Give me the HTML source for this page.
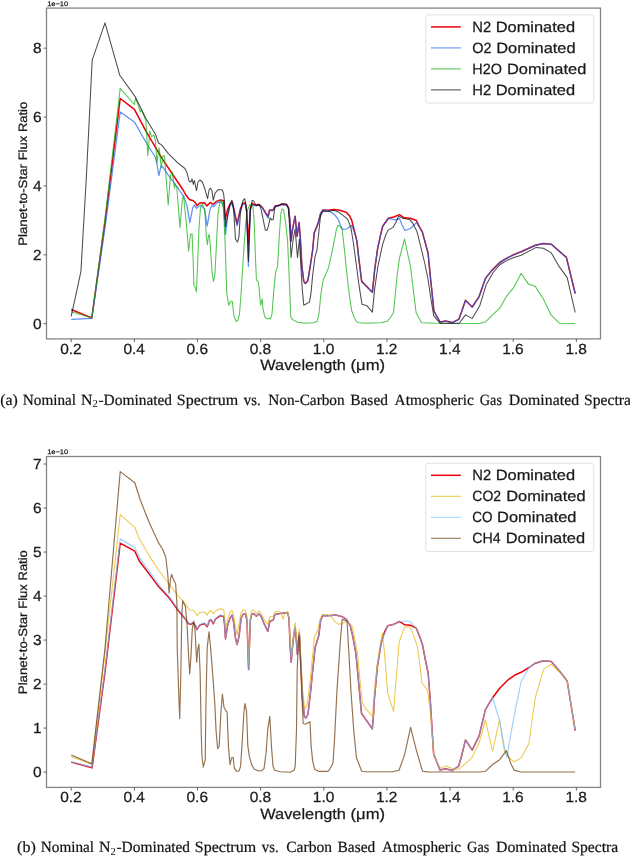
<!DOCTYPE html>
<html lang="en">
<head>
<meta charset="utf-8">
<title>Spectra</title>
<style>
html,body{margin:0;padding:0;background:#ffffff;}
body{width:630px;height:856px;overflow:hidden;font-family:"Liberation Sans",sans-serif;}
svg text{white-space:pre;text-rendering:geometricPrecision;}
</style>
</head>
<body>
<svg width="630" height="856" viewBox="0 0 630 856" style="display:block;will-change:transform">
<rect x="0" y="0" width="630" height="856" fill="#ffffff"/>
<g>
<g>
<polyline points="71.2,309.5 91.8,317.9 105.0,222.0 120.2,98.5 134.4,109.3 145.9,131.1 161.8,158.1 177.7,182.0 183.1,190.0 186.2,195.6 189.4,199.5 193.4,200.8 195.3,202.7 196.9,205.6 199.7,203.0 204.5,202.7 206.9,205.9 210.1,202.4 213.3,204.3 216.4,201.4 220.4,199.9 223.6,200.8 225.2,219.4 227.6,209.1 230.0,204.3 231.9,201.9 233.9,209.1 237.1,224.2 240.3,209.1 242.7,203.5 245.1,202.7 246.6,210.7 248.4,244.0 250.3,209.1 252.2,203.5 255.4,205.1 256.1,205.1 259.3,204.6 262.5,207.5 265.7,213.1 268.1,216.2 269.6,209.9 272.8,210.3 275.2,205.9 278.4,205.6 281.6,204.3 286.7,204.6 288.7,208.3 290.0,221.8 291.1,240.9 292.7,228.2 295.1,216.2 297.1,236.1 299.1,222.6 300.3,237.7 301.9,266.3 303.8,281.4 305.4,283.5 307.8,280.6 310.2,266.3 312.6,250.4 314.2,232.9 318.1,223.4 320.5,213.8 322.9,209.9 327.7,210.3 334.0,209.6 339.8,210.3 346.1,212.3 349.3,215.4 351.7,220.2 354.1,229.7 356.9,240.9 358.8,258.4 361.7,281.4 372.4,292.2 374.7,269.5 377.6,248.8 380.3,236.1 382.7,226.2 388.3,218.3 393.8,217.0 399.4,214.6 404.2,217.8 410.5,218.3 416.4,220.5 419.3,226.6 422.4,232.1 425.0,241.8 428.1,253.2 430.5,278.0 432.8,300.0 433.9,311.0 436.9,316.5 440.1,322.1 445.7,321.0 452.0,322.6 458.7,319.4 461.6,311.7 465.5,300.3 472.2,307.0 479.1,296.6 485.4,278.4 491.8,270.4 499.7,262.5 507.7,257.7 514.0,254.5 521.1,251.7 535.4,245.3 543.4,243.4 551.3,244.2 566.4,257.4 575.2,293.5" fill="none" stroke="#e8000b" stroke-width="1.5" stroke-linejoin="round" stroke-linecap="butt" stroke-opacity="1.0"/>
<polyline points="71.2,319.3 91.8,318.3 105.0,228.0 120.2,112.0 134.4,121.9 145.9,142.2 155.4,157.3 157.0,164.5 158.9,175.6 161.0,166.1 162.6,166.9 169.7,177.2 177.7,187.5 179.1,190.0 183.8,196.4 187.0,205.9 189.9,222.6 192.6,208.3 194.2,205.1 196.6,208.3 200.5,205.1 204.5,209.1 207.2,226.2 210.1,209.1 212.1,205.1 213.7,206.7 217.2,202.7 221.2,201.9 223.6,205.9 225.5,234.5 227.6,217.0 230.0,205.9 231.9,203.5 233.9,210.7 237.1,225.8 240.3,210.7 242.7,204.3 245.1,204.0 246.6,210.7 248.4,266.3 250.3,210.7 252.2,205.1 255.4,205.7 256.1,205.7 259.3,205.2 262.5,208.1 265.7,213.7 268.1,218.3 269.6,210.4 272.8,210.8 275.2,206.4 278.4,206.2 281.6,204.8 286.7,205.2 288.7,208.8 290.0,221.9 291.1,241.1 292.7,228.3 295.1,216.3 297.1,236.2 299.1,222.8 300.3,237.8 301.9,266.4 303.8,281.6 305.4,283.6 307.8,280.8 310.2,266.4 312.6,250.6 314.2,233.1 318.1,223.6 320.5,213.9 322.9,210.1 327.7,210.4 332.4,213.1 335.0,215.1 338.2,219.4 340.6,225.8 342.9,229.4 346.9,229.0 351.7,225.3 354.1,231.3 356.9,241.1 358.8,258.6 361.7,281.6 372.4,292.4 374.7,269.6 377.6,248.9 380.3,236.2 382.7,226.3 388.3,218.4 395.4,219.9 399.4,218.6 401.8,224.2 405.0,230.5 410.5,228.5 416.4,222.6 419.3,226.8 422.4,232.2 425.0,241.9 428.1,253.3 430.5,278.1 432.8,300.1 433.9,311.1 436.9,316.6 440.1,322.2 445.7,321.1 452.0,322.8 458.7,319.6 461.6,311.9 465.5,300.4 472.2,307.1 479.1,296.8 485.4,278.6 491.8,270.6 499.7,262.6 507.7,257.9 514.0,254.7 521.1,251.8 535.4,245.4 543.4,243.6 551.3,244.3 566.4,257.6 575.2,293.6" fill="none" stroke="#155fea" stroke-width="1.22" stroke-linejoin="round" stroke-linecap="butt" stroke-opacity="0.7"/>
<polyline points="71.2,311.8 91.8,317.9 105.0,218.0 120.2,88.4 134.4,104.5 135.5,98.1 138.7,106.5 140.3,112.0 141.4,109.6 145.9,120.8 147.8,155.7 149.9,131.1 151.5,136.7 153.8,135.1 155.4,140.6 157.0,162.9 159.1,147.8 161.3,167.7 162.9,155.7 164.5,155.7 165.8,174.0 168.2,205.0 170.5,175.6 172.1,171.6 174.5,188.3 175.0,183.6 176.9,188.3 177.8,200.0 179.9,227.4 182.3,199.5 183.5,195.6 186.2,221.8 188.6,251.2 190.5,234.5 192.1,233.7 192.9,253.6 193.9,285.4 195.3,287.8 196.4,291.7 197.7,261.5 198.9,229.7 200.5,207.5 202.6,204.0 204.8,210.7 206.4,237.7 207.4,244.8 208.5,235.3 209.3,234.5 210.6,250.4 212.1,272.7 213.4,281.4 214.8,275.9 216.4,245.6 218.0,213.8 220.1,200.8 222.0,201.9 223.6,210.7 225.2,245.6 226.8,293.3 228.7,305.3 230.7,301.3 232.3,301.3 233.9,315.6 236.0,321.2 237.9,320.4 239.5,314.0 241.1,293.3 243.5,253.6 245.9,221.8 247.5,210.0 250.0,204.5 252.9,205.9 254.2,221.8 255.3,253.6 256.4,279.8 258.5,282.2 260.6,305.3 262.2,298.9 263.0,309.2 264.9,317.2 267.3,319.1 268.8,318.0 270.4,319.1 272.0,314.0 273.6,293.3 275.5,272.7 277.6,266.3 279.2,237.7 280.8,213.8 281.9,209.1 283.5,209.4 285.5,221.8 287.6,240.9 289.2,277.4 290.8,317.2 292.7,319.6 297.5,322.3 305.4,323.2 313.4,322.8 317.3,321.2 318.9,314.0 321.0,293.3 323.2,279.8 328.5,267.9 332.4,250.4 336.4,229.7 337.7,225.3 339.8,226.2 342.2,229.7 344.5,250.4 346.9,274.3 349.3,294.9 351.7,310.8 354.1,317.2 356.5,321.6 358.8,322.8 366.8,323.2 381.1,322.8 387.5,321.2 390.6,317.2 393.5,312.4 395.4,293.3 397.3,274.3 399.4,258.4 404.6,239.0 407.3,252.0 410.5,266.3 413.7,293.3 416.1,312.4 418.5,317.2 421.6,322.8 435.0,323.2 479.1,323.5 485.4,322.1 491.8,315.7 499.7,308.2 506.9,295.8 514.0,287.1 521.1,273.4 528.3,283.9 535.4,286.6 543.4,299.0 551.0,314.9 559.3,323.2 575.2,323.5" fill="none" stroke="#08ac08" stroke-width="1.05" stroke-linejoin="round" stroke-linecap="butt" stroke-opacity="0.7"/>
<polyline points="71.2,316.4 80.9,271.6 86.2,180.0 92.2,60.2 105.0,22.8 119.8,75.3 135.1,96.6 136.4,99.3 145.9,118.4 155.4,134.3 158.6,143.0 161.8,145.1 168.2,153.4 177.7,162.9 184.9,168.5 186.9,172.4 189.1,181.2 190.9,182.0 192.0,178.8 193.3,184.4 194.4,180.4 196.5,190.7 198.0,182.0 200.0,179.9 202.3,182.0 204.7,188.3 207.6,198.7 209.0,190.0 210.3,188.0 211.9,190.7 213.3,200.3 215.1,193.1 218.2,189.5 222.2,190.0 223.6,193.5 224.4,201.1 225.5,226.6 227.6,215.4 230.0,204.3 231.9,200.3 233.4,205.9 235.5,239.3 237.6,242.1 239.0,236.1 240.3,213.8 242.7,201.1 244.6,198.7 246.3,205.9 248.4,261.5 250.3,209.1 252.2,200.3 253.8,201.1 254.5,202.7 256.4,205.9 259.0,204.3 260.9,208.3 263.3,220.2 265.3,230.1 266.9,230.5 268.5,225.8 270.1,217.8 271.7,219.9 273.3,219.4 274.9,207.5 276.8,205.9 279.2,205.1 282.4,203.5 286.3,204.3 288.2,207.5 289.5,225.0 291.1,257.6 292.7,242.5 295.1,229.0 297.5,257.6 299.4,239.3 300.6,261.5 302.2,288.6 303.8,305.3 309.4,302.1 311.0,293.3 312.6,275.9 315.0,256.8 316.9,250.4 318.9,231.3 320.5,216.2 322.6,211.5 327.7,211.5 334.0,210.3 339.0,212.3 342.9,215.4 347.7,219.4 350.9,227.4 353.3,242.5 355.7,260.0 358.8,283.8 362.0,304.2 366.8,305.7 372.4,312.1 374.7,288.6 377.9,266.3 382.7,244.1 385.9,234.5 388.3,230.1 393.0,227.4 396.2,221.8 398.6,216.2 403.4,218.6 409.7,219.4 412.9,223.4 416.9,231.3 420.9,247.2 424.8,263.5 428.0,279.0 430.6,297.0 432.6,309.0 433.7,315.7 436.9,319.7 440.1,323.2 459.2,323.2 465.5,314.9 472.2,318.6 479.9,305.4 486.2,284.7 493.4,272.0 499.7,264.8 507.7,260.1 514.0,257.4 521.1,255.3 536.2,247.4 543.4,248.2 551.3,252.9 558.5,265.6 567.2,277.6 575.2,312.5" fill="none" stroke="#000000" stroke-width="1.05" stroke-linejoin="round" stroke-linecap="butt" stroke-opacity="0.7"/>
</g>
<rect x="46.5" y="8.1" width="554.0" height="330.8" fill="none" stroke="#858585" stroke-width="1.3"/>
<text x="47.2" y="5.7" font-family="Liberation Sans, sans-serif" stroke="#1a1a1a" stroke-width="0.25" font-size="6.6" fill="#1a1a1a" textLength="21" lengthAdjust="spacingAndGlyphs">1e−10</text>
<line x1="43.5" y1="323.70" x2="46.5" y2="323.70" stroke="#444" stroke-width="0.8"/>
<text x="33.0" y="328.9" font-family="Liberation Sans, sans-serif" stroke="#1a1a1a" stroke-width="0.25" font-size="14.7" fill="#1a1a1a" textLength="8.6" lengthAdjust="spacingAndGlyphs">0</text>
<line x1="43.5" y1="254.82" x2="46.5" y2="254.82" stroke="#444" stroke-width="0.8"/>
<text x="33.0" y="260.0" font-family="Liberation Sans, sans-serif" stroke="#1a1a1a" stroke-width="0.25" font-size="14.7" fill="#1a1a1a" textLength="8.6" lengthAdjust="spacingAndGlyphs">2</text>
<line x1="43.5" y1="185.94" x2="46.5" y2="185.94" stroke="#444" stroke-width="0.8"/>
<text x="33.0" y="191.1" font-family="Liberation Sans, sans-serif" stroke="#1a1a1a" stroke-width="0.25" font-size="14.7" fill="#1a1a1a" textLength="8.6" lengthAdjust="spacingAndGlyphs">4</text>
<line x1="43.5" y1="117.06" x2="46.5" y2="117.06" stroke="#444" stroke-width="0.8"/>
<text x="33.0" y="122.3" font-family="Liberation Sans, sans-serif" stroke="#1a1a1a" stroke-width="0.25" font-size="14.7" fill="#1a1a1a" textLength="8.6" lengthAdjust="spacingAndGlyphs">6</text>
<line x1="43.5" y1="48.18" x2="46.5" y2="48.18" stroke="#444" stroke-width="0.8"/>
<text x="33.0" y="53.4" font-family="Liberation Sans, sans-serif" stroke="#1a1a1a" stroke-width="0.25" font-size="14.7" fill="#1a1a1a" textLength="8.6" lengthAdjust="spacingAndGlyphs">8</text>
<line x1="71.25" y1="338.9" x2="71.25" y2="342.1" stroke="#444" stroke-width="0.8"/>
<text x="60.2" y="353.8" font-family="Liberation Sans, sans-serif" stroke="#1a1a1a" stroke-width="0.25" font-size="14.7" fill="#1a1a1a" textLength="21.5" lengthAdjust="spacingAndGlyphs">0.2</text>
<line x1="134.39" y1="338.9" x2="134.39" y2="342.1" stroke="#444" stroke-width="0.8"/>
<text x="123.4" y="353.8" font-family="Liberation Sans, sans-serif" stroke="#1a1a1a" stroke-width="0.25" font-size="14.7" fill="#1a1a1a" textLength="21.5" lengthAdjust="spacingAndGlyphs">0.4</text>
<line x1="197.53" y1="338.9" x2="197.53" y2="342.1" stroke="#444" stroke-width="0.8"/>
<text x="186.5" y="353.8" font-family="Liberation Sans, sans-serif" stroke="#1a1a1a" stroke-width="0.25" font-size="14.7" fill="#1a1a1a" textLength="21.5" lengthAdjust="spacingAndGlyphs">0.6</text>
<line x1="260.67" y1="338.9" x2="260.67" y2="342.1" stroke="#444" stroke-width="0.8"/>
<text x="249.7" y="353.8" font-family="Liberation Sans, sans-serif" stroke="#1a1a1a" stroke-width="0.25" font-size="14.7" fill="#1a1a1a" textLength="21.5" lengthAdjust="spacingAndGlyphs">0.8</text>
<line x1="323.81" y1="338.9" x2="323.81" y2="342.1" stroke="#444" stroke-width="0.8"/>
<text x="312.8" y="353.8" font-family="Liberation Sans, sans-serif" stroke="#1a1a1a" stroke-width="0.25" font-size="14.7" fill="#1a1a1a" textLength="21.5" lengthAdjust="spacingAndGlyphs">1.0</text>
<line x1="386.95" y1="338.9" x2="386.95" y2="342.1" stroke="#444" stroke-width="0.8"/>
<text x="375.9" y="353.8" font-family="Liberation Sans, sans-serif" stroke="#1a1a1a" stroke-width="0.25" font-size="14.7" fill="#1a1a1a" textLength="21.5" lengthAdjust="spacingAndGlyphs">1.2</text>
<line x1="450.09" y1="338.9" x2="450.09" y2="342.1" stroke="#444" stroke-width="0.8"/>
<text x="439.1" y="353.8" font-family="Liberation Sans, sans-serif" stroke="#1a1a1a" stroke-width="0.25" font-size="14.7" fill="#1a1a1a" textLength="21.5" lengthAdjust="spacingAndGlyphs">1.4</text>
<line x1="513.23" y1="338.9" x2="513.23" y2="342.1" stroke="#444" stroke-width="0.8"/>
<text x="502.2" y="353.8" font-family="Liberation Sans, sans-serif" stroke="#1a1a1a" stroke-width="0.25" font-size="14.7" fill="#1a1a1a" textLength="21.5" lengthAdjust="spacingAndGlyphs">1.6</text>
<line x1="576.37" y1="338.9" x2="576.37" y2="342.1" stroke="#444" stroke-width="0.8"/>
<text x="565.4" y="353.8" font-family="Liberation Sans, sans-serif" stroke="#1a1a1a" stroke-width="0.25" font-size="14.7" fill="#1a1a1a" textLength="21.5" lengthAdjust="spacingAndGlyphs">1.8</text>
<text x="260.3" y="370.1" font-family="Liberation Sans, sans-serif" stroke="#1a1a1a" stroke-width="0.25" font-size="15.0" fill="#1a1a1a" textLength="85.66" lengthAdjust="spacingAndGlyphs">Wavelength</text>
<text x="350.55" y="370.1" font-family="Liberation Sans, sans-serif" stroke="#1a1a1a" stroke-width="0.25" font-size="15.0" fill="#1a1a1a" textLength="34.52" lengthAdjust="spacingAndGlyphs">(μm)</text>
<g transform="translate(27.4,245.8) rotate(-90)">
<text x="0.00" y="0" font-family="Liberation Sans, sans-serif" stroke="#1a1a1a" stroke-width="0.25" font-size="12.2" fill="#1a1a1a" textLength="81.72" lengthAdjust="spacingAndGlyphs">Planet-to-Star</text>
<text x="85.46" y="0" font-family="Liberation Sans, sans-serif" stroke="#1a1a1a" stroke-width="0.25" font-size="12.2" fill="#1a1a1a" textLength="24.51" lengthAdjust="spacingAndGlyphs">Flux</text>
<text x="113.72" y="0" font-family="Liberation Sans, sans-serif" stroke="#1a1a1a" stroke-width="0.25" font-size="12.2" fill="#1a1a1a" textLength="30.27" lengthAdjust="spacingAndGlyphs">Ratio</text>
</g>
<rect x="425.8" y="14.9" width="167.9" height="88.2" rx="2.2" ry="2.2" fill="#ffffff" fill-opacity="0.8" stroke="#d4d4d4" stroke-width="0.7"/>
<line x1="431.0" y1="26.9" x2="460.8" y2="26.9" stroke="#e8000b" stroke-width="1.5" stroke-opacity="1.0"/>
<text x="472.3" y="31.8" font-family="Liberation Sans, sans-serif" stroke="#1a1a1a" stroke-width="0.25" font-size="14.8" fill="#1a1a1a" textLength="18.84" lengthAdjust="spacingAndGlyphs">N2</text>
<text x="495.66" y="31.8" font-family="Liberation Sans, sans-serif" stroke="#1a1a1a" stroke-width="0.25" font-size="14.8" fill="#1a1a1a" textLength="79.4" lengthAdjust="spacingAndGlyphs">Dominated</text>
<line x1="431.0" y1="47.9" x2="460.8" y2="47.9" stroke="#155fea" stroke-width="1.05" stroke-opacity="0.7"/>
<text x="472.3" y="52.8" font-family="Liberation Sans, sans-serif" stroke="#1a1a1a" stroke-width="0.25" font-size="14.8" fill="#1a1a1a" textLength="19.37" lengthAdjust="spacingAndGlyphs">O2</text>
<text x="496.21" y="52.8" font-family="Liberation Sans, sans-serif" stroke="#1a1a1a" stroke-width="0.25" font-size="14.8" fill="#1a1a1a" textLength="79.4" lengthAdjust="spacingAndGlyphs">Dominated</text>
<line x1="431.0" y1="68.9" x2="460.8" y2="68.9" stroke="#08ac08" stroke-width="1.05" stroke-opacity="0.7"/>
<text x="472.3" y="73.8" font-family="Liberation Sans, sans-serif" stroke="#1a1a1a" stroke-width="0.25" font-size="14.8" fill="#1a1a1a" textLength="29.61" lengthAdjust="spacingAndGlyphs">H2O</text>
<text x="506.93" y="73.8" font-family="Liberation Sans, sans-serif" stroke="#1a1a1a" stroke-width="0.25" font-size="14.8" fill="#1a1a1a" textLength="79.4" lengthAdjust="spacingAndGlyphs">Dominated</text>
<line x1="431.0" y1="89.9" x2="460.8" y2="89.9" stroke="#000000" stroke-width="1.05" stroke-opacity="0.7"/>
<text x="472.3" y="94.8" font-family="Liberation Sans, sans-serif" stroke="#1a1a1a" stroke-width="0.25" font-size="14.8" fill="#1a1a1a" textLength="18.89" lengthAdjust="spacingAndGlyphs">H2</text>
<text x="495.71" y="94.8" font-family="Liberation Sans, sans-serif" stroke="#1a1a1a" stroke-width="0.25" font-size="14.8" fill="#1a1a1a" textLength="79.4" lengthAdjust="spacingAndGlyphs">Dominated</text>
<g>
<polyline points="71.2,762.1 92.1,767.7 105.0,672.0 120.2,543.2 134.8,551.2 138.5,559.1 139.5,561.2 149.1,573.9 158.6,586.6 169.7,598.6 177.7,609.7 184.9,618.4 188.3,623.5 191.0,624.2 193.4,622.7 195.3,625.4 196.9,629.4 199.7,625.1 204.5,623.5 207.2,626.7 209.6,620.3 211.2,619.9 213.3,623.8 215.6,618.8 220.4,615.6 223.6,616.4 224.5,623.8 225.5,639.0 227.6,625.4 230.0,618.3 231.9,615.1 233.4,620.7 235.5,638.2 237.1,644.5 239.0,636.6 241.1,618.3 243.0,614.3 245.4,614.0 247.0,620.7 248.6,669.6 250.3,620.7 251.7,614.3 254.0,613.8 256.4,616.2 258.7,613.8 261.1,616.2 264.3,624.2 267.8,631.3 269.9,621.0 273.1,620.2 275.1,614.6 278.6,613.8 283.4,613.1 287.8,613.1 289.0,618.6 290.1,645.6 291.2,662.3 292.9,642.5 295.0,627.4 296.1,637.7 297.4,654.4 299.3,632.9 300.6,661.5 302.5,698.1 304.4,716.4 306.0,718.0 308.0,714.0 310.4,693.3 312.8,669.5 315.2,647.2 318.7,636.1 320.7,620.2 322.8,615.4 327.9,615.8 335.9,615.1 342.2,616.7 346.4,619.4 350.3,625.8 352.7,636.1 355.9,653.6 358.3,679.0 361.5,713.2 372.3,728.9 373.6,713.8 374.2,701.3 377.4,666.3 381.3,642.5 384.5,632.1 387.7,625.8 394.1,624.2 399.6,621.5 404.4,624.7 410.7,625.3 416.3,628.2 419.5,636.1 422.7,645.6 425.0,658.0 428.2,673.5 430.6,705.0 432.4,735.0 433.7,754.2 440.1,770.1 445.7,768.8 452.3,770.4 458.7,766.1 461.6,755.7 465.5,739.9 472.2,750.2 479.1,735.9 485.4,709.6 492.6,697.7 499.7,688.2 507.7,680.2 515.6,674.7 521.1,672.3 529.1,667.5 535.4,663.2 543.4,660.7 551.3,661.6 559.3,670.7 567.2,681.0 575.2,730.6" fill="none" stroke="#e8000b" stroke-width="1.5" stroke-linejoin="round" stroke-linecap="butt" stroke-opacity="1.0"/>
<polyline points="71.2,756.8 91.8,764.0 105.0,653.5 120.2,514.6 134.8,527.3 139.5,539.0 149.1,555.6 158.6,570.0 168.2,582.7 177.7,595.4 184.9,603.3 187.0,606.4 189.4,609.9 193.4,610.3 195.3,612.4 196.9,615.6 199.7,612.4 204.5,611.9 207.2,615.1 209.3,611.1 211.2,610.8 213.3,614.0 215.6,610.8 220.4,608.7 223.6,609.5 224.5,615.9 225.7,628.6 227.6,619.1 230.0,612.7 231.9,610.3 233.4,614.3 235.5,627.0 237.1,634.7 239.0,623.8 241.1,612.7 243.0,609.9 245.4,610.3 247.0,615.9 248.6,664.0 250.3,619.1 251.7,610.8 253.2,609.9 256.4,613.5 258.7,611.0 261.1,613.1 264.3,620.2 267.8,624.2 269.9,616.7 273.1,616.2 275.1,611.9 278.6,611.1 281.5,613.1 283.1,619.4 284.7,613.1 287.8,611.5 289.0,617.8 290.5,645.6 291.7,656.8 293.2,637.7 295.2,622.6 296.4,634.5 297.7,650.4 299.3,629.0 300.6,653.6 302.5,688.6 304.4,706.9 305.6,708.4 307.2,704.5 309.6,685.4 312.0,661.5 314.4,637.7 317.6,630.5 320.0,619.4 322.3,614.6 327.9,614.6 331.1,616.2 335.1,621.8 338.2,624.2 343.0,623.4 347.2,621.0 351.9,625.8 354.3,636.1 357.5,653.6 359.9,679.0 362.3,702.9 366.2,709.2 372.6,716.4 374.2,693.3 376.9,666.3 380.5,642.5 382.6,632.9 384.5,653.6 387.7,693.3 393.6,711.6 395.6,685.4 399.1,642.5 404.4,626.9 410.0,626.9 413.9,636.1 417.1,645.6 419.5,661.5 421.9,683.0 425.0,686.6 427.9,691.4 430.6,715.0 433.7,755.7 440.1,768.2 446.5,766.1 452.3,768.8 458.7,769.3 465.5,763.7 472.2,757.3 479.1,743.0 485.4,720.0 492.6,751.3 499.4,720.0 504.5,751.0 507.7,756.5 514.0,761.8 521.1,758.1 528.8,743.8 535.4,696.9 543.7,669.1 551.3,664.3 559.3,671.8 567.2,681.0 575.2,729.0" fill="none" stroke="#e4b202" stroke-width="1.05" stroke-linejoin="round" stroke-linecap="butt" stroke-opacity="0.7"/>
<polyline points="71.2,761.6 92.0,767.2 105.0,669.0 120.2,538.9 134.8,547.5 138.5,555.3 139.5,557.6 149.1,571.2 158.6,584.6 169.7,597.0 177.7,608.6 184.9,617.6 188.3,622.9 191.0,623.6 193.4,622.1 195.3,624.8 196.9,628.8 199.7,624.5 204.5,622.9 207.2,626.1 209.6,619.7 211.2,619.3 213.3,623.2 215.6,618.2 220.4,615.0 223.6,615.8 224.5,623.8 225.5,639.0 227.6,625.4 230.0,618.3 231.9,615.1 233.4,620.7 235.5,638.2 237.1,644.5 239.0,636.6 241.1,618.3 243.0,614.3 245.4,614.0 247.0,620.7 248.6,669.6 250.3,620.7 251.7,614.3 254.0,613.8 256.4,616.2 258.7,613.8 261.1,616.2 264.3,624.2 267.8,631.3 269.9,621.0 273.1,620.2 275.1,614.6 278.6,613.8 283.4,613.1 287.8,613.1 289.0,618.6 290.1,645.6 291.2,662.3 292.9,642.5 295.0,627.4 296.1,637.7 297.4,654.4 299.3,632.9 300.6,661.5 302.5,698.1 304.4,716.4 306.0,718.0 308.0,714.0 310.4,693.3 312.8,669.5 315.2,647.2 318.7,636.1 320.7,620.2 322.8,615.4 327.9,615.8 335.9,615.1 342.2,616.7 346.4,619.4 350.3,625.8 352.7,636.1 355.9,653.6 358.3,679.0 361.5,713.2 372.3,728.9 373.6,713.8 374.2,701.3 377.4,666.3 381.3,642.5 384.5,634.5 387.7,625.8 394.1,624.2 399.6,621.5 404.4,621.0 410.0,621.5 416.3,628.2 419.5,636.1 422.7,645.6 425.0,658.0 428.2,673.5 430.6,705.0 432.4,735.0 433.7,754.2 440.1,770.1 445.7,768.8 452.3,770.4 458.7,766.1 461.6,755.7 465.5,739.9 472.2,750.2 479.1,735.9 485.4,709.6 492.6,697.7 499.7,720.8 504.5,747.8 506.9,757.3 510.9,733.5 515.6,708.5 521.1,681.8 529.1,667.5 535.4,663.2 543.4,660.7 551.3,661.6 559.3,670.7 567.2,681.0 575.2,730.6" fill="none" stroke="#7cbfff" stroke-width="1.22" stroke-linejoin="round" stroke-linecap="butt" stroke-opacity="0.7"/>
<polyline points="71.2,755.0 91.8,763.9 105.0,648.0 120.2,471.6 134.8,482.8 140.3,500.0 149.1,522.3 158.6,542.9 162.6,549.3 165.8,557.2 167.8,574.7 169.1,593.0 170.4,579.5 171.7,574.4 173.7,580.3 175.6,583.5 176.9,603.3 177.2,647.7 178.8,695.4 179.7,718.4 180.7,679.5 181.8,615.9 182.7,600.8 185.4,606.4 187.0,623.8 188.6,655.6 189.7,673.9 191.0,655.6 192.3,628.6 193.7,621.0 195.0,630.2 196.7,662.3 197.8,649.3 198.9,644.2 200.1,671.5 201.3,735.0 202.0,757.0 203.3,767.0 205.2,759.8 206.1,695.4 207.2,647.7 209.0,631.8 210.6,647.7 212.5,671.5 214.8,703.3 216.0,729.7 217.6,748.7 219.2,746.3 220.8,713.8 222.4,694.0 224.0,707.5 225.6,710.3 227.1,712.2 228.4,745.6 230.0,764.6 231.6,757.9 233.2,757.5 234.3,767.8 236.7,771.3 239.0,771.0 240.6,766.2 242.2,742.4 243.8,713.8 244.9,703.5 246.5,710.6 247.8,745.6 249.4,756.7 251.7,764.6 254.1,769.0 257.3,770.6 261.3,771.0 264.0,768.6 266.0,753.5 267.7,729.7 269.8,716.2 271.4,745.6 273.0,766.2 274.6,770.2 280.6,771.7 290.2,772.2 294.1,770.2 295.2,766.2 296.5,729.7 297.2,669.5 298.5,637.7 299.3,635.3 300.6,661.5 302.1,701.3 303.2,723.7 306.0,724.1 310.0,721.7 311.1,745.6 312.7,761.4 314.8,769.4 318.7,771.3 328.3,771.3 330.6,767.8 333.0,763.0 334.6,737.6 337.0,690.0 340.6,637.7 342.2,619.4 347.0,621.0 348.7,650.0 351.1,693.3 353.7,729.7 356.4,757.5 361.7,771.3 365.6,771.7 392.6,771.7 399.0,770.2 404.5,755.1 410.6,727.3 416.4,750.3 422.5,771.3 427.5,771.9 479.1,772.0 485.4,771.3 492.6,764.5 499.7,759.7 506.4,750.7 510.9,763.7 514.0,770.1 521.1,772.0 575.2,772.0" fill="none" stroke="#663300" stroke-width="1.1500000000000001" stroke-linejoin="round" stroke-linecap="butt" stroke-opacity="0.7"/>
</g>
<rect x="46.5" y="456.5" width="554.0" height="330.9" fill="none" stroke="#858585" stroke-width="1.3"/>
<text x="47.2" y="454.1" font-family="Liberation Sans, sans-serif" stroke="#1a1a1a" stroke-width="0.25" font-size="6.6" fill="#1a1a1a" textLength="21" lengthAdjust="spacingAndGlyphs">1e−10</text>
<line x1="43.5" y1="772.10" x2="46.5" y2="772.10" stroke="#444" stroke-width="0.8"/>
<text x="33.0" y="777.3" font-family="Liberation Sans, sans-serif" stroke="#1a1a1a" stroke-width="0.25" font-size="14.7" fill="#1a1a1a" textLength="8.6" lengthAdjust="spacingAndGlyphs">0</text>
<line x1="43.5" y1="728.09" x2="46.5" y2="728.09" stroke="#444" stroke-width="0.8"/>
<text x="33.0" y="733.3" font-family="Liberation Sans, sans-serif" stroke="#1a1a1a" stroke-width="0.25" font-size="14.7" fill="#1a1a1a" textLength="8.6" lengthAdjust="spacingAndGlyphs">1</text>
<line x1="43.5" y1="684.08" x2="46.5" y2="684.08" stroke="#444" stroke-width="0.8"/>
<text x="33.0" y="689.3" font-family="Liberation Sans, sans-serif" stroke="#1a1a1a" stroke-width="0.25" font-size="14.7" fill="#1a1a1a" textLength="8.6" lengthAdjust="spacingAndGlyphs">2</text>
<line x1="43.5" y1="640.07" x2="46.5" y2="640.07" stroke="#444" stroke-width="0.8"/>
<text x="33.0" y="645.3" font-family="Liberation Sans, sans-serif" stroke="#1a1a1a" stroke-width="0.25" font-size="14.7" fill="#1a1a1a" textLength="8.6" lengthAdjust="spacingAndGlyphs">3</text>
<line x1="43.5" y1="596.06" x2="46.5" y2="596.06" stroke="#444" stroke-width="0.8"/>
<text x="33.0" y="601.3" font-family="Liberation Sans, sans-serif" stroke="#1a1a1a" stroke-width="0.25" font-size="14.7" fill="#1a1a1a" textLength="8.6" lengthAdjust="spacingAndGlyphs">4</text>
<line x1="43.5" y1="552.05" x2="46.5" y2="552.05" stroke="#444" stroke-width="0.8"/>
<text x="33.0" y="557.3" font-family="Liberation Sans, sans-serif" stroke="#1a1a1a" stroke-width="0.25" font-size="14.7" fill="#1a1a1a" textLength="8.6" lengthAdjust="spacingAndGlyphs">5</text>
<line x1="43.5" y1="508.04" x2="46.5" y2="508.04" stroke="#444" stroke-width="0.8"/>
<text x="33.0" y="513.2" font-family="Liberation Sans, sans-serif" stroke="#1a1a1a" stroke-width="0.25" font-size="14.7" fill="#1a1a1a" textLength="8.6" lengthAdjust="spacingAndGlyphs">6</text>
<line x1="43.5" y1="464.03" x2="46.5" y2="464.03" stroke="#444" stroke-width="0.8"/>
<text x="33.0" y="469.2" font-family="Liberation Sans, sans-serif" stroke="#1a1a1a" stroke-width="0.25" font-size="14.7" fill="#1a1a1a" textLength="8.6" lengthAdjust="spacingAndGlyphs">7</text>
<line x1="71.25" y1="787.4" x2="71.25" y2="790.6" stroke="#444" stroke-width="0.8"/>
<text x="60.2" y="802.3" font-family="Liberation Sans, sans-serif" stroke="#1a1a1a" stroke-width="0.25" font-size="14.7" fill="#1a1a1a" textLength="21.5" lengthAdjust="spacingAndGlyphs">0.2</text>
<line x1="134.39" y1="787.4" x2="134.39" y2="790.6" stroke="#444" stroke-width="0.8"/>
<text x="123.4" y="802.3" font-family="Liberation Sans, sans-serif" stroke="#1a1a1a" stroke-width="0.25" font-size="14.7" fill="#1a1a1a" textLength="21.5" lengthAdjust="spacingAndGlyphs">0.4</text>
<line x1="197.53" y1="787.4" x2="197.53" y2="790.6" stroke="#444" stroke-width="0.8"/>
<text x="186.5" y="802.3" font-family="Liberation Sans, sans-serif" stroke="#1a1a1a" stroke-width="0.25" font-size="14.7" fill="#1a1a1a" textLength="21.5" lengthAdjust="spacingAndGlyphs">0.6</text>
<line x1="260.67" y1="787.4" x2="260.67" y2="790.6" stroke="#444" stroke-width="0.8"/>
<text x="249.7" y="802.3" font-family="Liberation Sans, sans-serif" stroke="#1a1a1a" stroke-width="0.25" font-size="14.7" fill="#1a1a1a" textLength="21.5" lengthAdjust="spacingAndGlyphs">0.8</text>
<line x1="323.81" y1="787.4" x2="323.81" y2="790.6" stroke="#444" stroke-width="0.8"/>
<text x="312.8" y="802.3" font-family="Liberation Sans, sans-serif" stroke="#1a1a1a" stroke-width="0.25" font-size="14.7" fill="#1a1a1a" textLength="21.5" lengthAdjust="spacingAndGlyphs">1.0</text>
<line x1="386.95" y1="787.4" x2="386.95" y2="790.6" stroke="#444" stroke-width="0.8"/>
<text x="375.9" y="802.3" font-family="Liberation Sans, sans-serif" stroke="#1a1a1a" stroke-width="0.25" font-size="14.7" fill="#1a1a1a" textLength="21.5" lengthAdjust="spacingAndGlyphs">1.2</text>
<line x1="450.09" y1="787.4" x2="450.09" y2="790.6" stroke="#444" stroke-width="0.8"/>
<text x="439.1" y="802.3" font-family="Liberation Sans, sans-serif" stroke="#1a1a1a" stroke-width="0.25" font-size="14.7" fill="#1a1a1a" textLength="21.5" lengthAdjust="spacingAndGlyphs">1.4</text>
<line x1="513.23" y1="787.4" x2="513.23" y2="790.6" stroke="#444" stroke-width="0.8"/>
<text x="502.2" y="802.3" font-family="Liberation Sans, sans-serif" stroke="#1a1a1a" stroke-width="0.25" font-size="14.7" fill="#1a1a1a" textLength="21.5" lengthAdjust="spacingAndGlyphs">1.6</text>
<line x1="576.37" y1="787.4" x2="576.37" y2="790.6" stroke="#444" stroke-width="0.8"/>
<text x="565.4" y="802.3" font-family="Liberation Sans, sans-serif" stroke="#1a1a1a" stroke-width="0.25" font-size="14.7" fill="#1a1a1a" textLength="21.5" lengthAdjust="spacingAndGlyphs">1.8</text>
<text x="260.3" y="818.6" font-family="Liberation Sans, sans-serif" stroke="#1a1a1a" stroke-width="0.25" font-size="15.0" fill="#1a1a1a" textLength="85.66" lengthAdjust="spacingAndGlyphs">Wavelength</text>
<text x="350.55" y="818.6" font-family="Liberation Sans, sans-serif" stroke="#1a1a1a" stroke-width="0.25" font-size="15.0" fill="#1a1a1a" textLength="34.52" lengthAdjust="spacingAndGlyphs">(μm)</text>
<g transform="translate(27.4,694.2) rotate(-90)">
<text x="0.00" y="0" font-family="Liberation Sans, sans-serif" stroke="#1a1a1a" stroke-width="0.25" font-size="12.2" fill="#1a1a1a" textLength="81.72" lengthAdjust="spacingAndGlyphs">Planet-to-Star</text>
<text x="85.46" y="0" font-family="Liberation Sans, sans-serif" stroke="#1a1a1a" stroke-width="0.25" font-size="12.2" fill="#1a1a1a" textLength="24.51" lengthAdjust="spacingAndGlyphs">Flux</text>
<text x="113.72" y="0" font-family="Liberation Sans, sans-serif" stroke="#1a1a1a" stroke-width="0.25" font-size="12.2" fill="#1a1a1a" textLength="30.27" lengthAdjust="spacingAndGlyphs">Ratio</text>
</g>
<rect x="425.8" y="463.3" width="167.9" height="88.2" rx="2.2" ry="2.2" fill="#ffffff" fill-opacity="0.8" stroke="#d4d4d4" stroke-width="0.7"/>
<line x1="431.0" y1="475.3" x2="460.8" y2="475.3" stroke="#e8000b" stroke-width="1.5" stroke-opacity="1.0"/>
<text x="472.3" y="480.2" font-family="Liberation Sans, sans-serif" stroke="#1a1a1a" stroke-width="0.25" font-size="14.8" fill="#1a1a1a" textLength="18.84" lengthAdjust="spacingAndGlyphs">N2</text>
<text x="495.66" y="480.2" font-family="Liberation Sans, sans-serif" stroke="#1a1a1a" stroke-width="0.25" font-size="14.8" fill="#1a1a1a" textLength="79.4" lengthAdjust="spacingAndGlyphs">Dominated</text>
<line x1="431.0" y1="496.3" x2="460.8" y2="496.3" stroke="#e4b202" stroke-width="1.05" stroke-opacity="0.7"/>
<text x="472.3" y="501.2" font-family="Liberation Sans, sans-serif" stroke="#1a1a1a" stroke-width="0.25" font-size="14.8" fill="#1a1a1a" textLength="28.87" lengthAdjust="spacingAndGlyphs">CO2</text>
<text x="506.16" y="501.2" font-family="Liberation Sans, sans-serif" stroke="#1a1a1a" stroke-width="0.25" font-size="14.8" fill="#1a1a1a" textLength="79.4" lengthAdjust="spacingAndGlyphs">Dominated</text>
<line x1="431.0" y1="517.3" x2="460.8" y2="517.3" stroke="#7cbfff" stroke-width="1.05" stroke-opacity="0.7"/>
<text x="472.3" y="522.1" font-family="Liberation Sans, sans-serif" stroke="#1a1a1a" stroke-width="0.25" font-size="14.8" fill="#1a1a1a" textLength="20.22" lengthAdjust="spacingAndGlyphs">CO</text>
<text x="497.10" y="522.1" font-family="Liberation Sans, sans-serif" stroke="#1a1a1a" stroke-width="0.25" font-size="14.8" fill="#1a1a1a" textLength="79.4" lengthAdjust="spacingAndGlyphs">Dominated</text>
<line x1="431.0" y1="538.3" x2="460.8" y2="538.3" stroke="#663300" stroke-width="1.05" stroke-opacity="0.7"/>
<text x="472.3" y="543.1" font-family="Liberation Sans, sans-serif" stroke="#1a1a1a" stroke-width="0.25" font-size="14.8" fill="#1a1a1a" textLength="28.39" lengthAdjust="spacingAndGlyphs">CH4</text>
<text x="505.66" y="543.1" font-family="Liberation Sans, sans-serif" stroke="#1a1a1a" stroke-width="0.25" font-size="14.8" fill="#1a1a1a" textLength="79.4" lengthAdjust="spacingAndGlyphs">Dominated</text>
<text x="0.3" y="404.6" font-family="Liberation Serif, serif" font-size="15.6" fill="#141414" stroke="#141414" stroke-width="0.22" textLength="17.6" lengthAdjust="spacingAndGlyphs">(a)</text>
<text x="22.8" y="404.6" font-family="Liberation Serif, serif" font-size="15.6" fill="#141414" stroke="#141414" stroke-width="0.22" textLength="53.3" lengthAdjust="spacingAndGlyphs">Nominal</text>
<text x="81.1" y="404.6" font-family="Liberation Serif, serif" font-size="15.6" fill="#141414" stroke="#141414" stroke-width="0.22" textLength="11.5" lengthAdjust="spacingAndGlyphs">N</text>
<text x="92.6" y="406.9" font-family="Liberation Serif, serif" font-size="10.6" fill="#141414" textLength="5.3" lengthAdjust="spacingAndGlyphs">2</text>
<text x="98.4" y="404.6" font-family="Liberation Serif, serif" font-size="15.6" fill="#141414" stroke="#141414" stroke-width="0.22" textLength="73.7" lengthAdjust="spacingAndGlyphs">-Dominated</text>
<text x="176.8" y="404.6" font-family="Liberation Serif, serif" font-size="15.6" fill="#141414" stroke="#141414" stroke-width="0.22" textLength="61.3" lengthAdjust="spacingAndGlyphs">Spectrum</text>
<text x="243.8" y="404.6" font-family="Liberation Serif, serif" font-size="15.6" fill="#141414" stroke="#141414" stroke-width="0.22" textLength="16.8" lengthAdjust="spacingAndGlyphs">vs.</text>
<text x="268.2" y="404.6" font-family="Liberation Serif, serif" font-size="15.6" fill="#141414" stroke="#141414" stroke-width="0.22" textLength="76.5" lengthAdjust="spacingAndGlyphs">Non-Carbon</text>
<text x="350.2" y="404.6" font-family="Liberation Serif, serif" font-size="15.6" fill="#141414" stroke="#141414" stroke-width="0.22" textLength="37.8" lengthAdjust="spacingAndGlyphs">Based</text>
<text x="394.6" y="404.6" font-family="Liberation Serif, serif" font-size="15.6" fill="#141414" stroke="#141414" stroke-width="0.22" textLength="79.1" lengthAdjust="spacingAndGlyphs">Atmospheric</text>
<text x="479.8" y="404.6" font-family="Liberation Serif, serif" font-size="15.6" fill="#141414" stroke="#141414" stroke-width="0.22" textLength="22.2" lengthAdjust="spacingAndGlyphs">Gas</text>
<text x="508.7" y="404.6" font-family="Liberation Serif, serif" font-size="15.6" fill="#141414" stroke="#141414" stroke-width="0.22" textLength="70.4" lengthAdjust="spacingAndGlyphs">Dominated</text>
<text x="584.1" y="404.6" font-family="Liberation Serif, serif" font-size="15.6" fill="#141414" stroke="#141414" stroke-width="0.22" textLength="46.8" lengthAdjust="spacingAndGlyphs">Spectra</text>
<text x="17.1" y="852.4" font-family="Liberation Serif, serif" font-size="15.6" fill="#141414" stroke="#141414" stroke-width="0.22" textLength="18.8" lengthAdjust="spacingAndGlyphs">(b)</text>
<text x="40.8" y="852.4" font-family="Liberation Serif, serif" font-size="15.6" fill="#141414" stroke="#141414" stroke-width="0.22" textLength="53.3" lengthAdjust="spacingAndGlyphs">Nominal</text>
<text x="99.1" y="852.4" font-family="Liberation Serif, serif" font-size="15.6" fill="#141414" stroke="#141414" stroke-width="0.22" textLength="11.5" lengthAdjust="spacingAndGlyphs">N</text>
<text x="110.6" y="854.7" font-family="Liberation Serif, serif" font-size="10.6" fill="#141414" textLength="5.3" lengthAdjust="spacingAndGlyphs">2</text>
<text x="116.4" y="852.4" font-family="Liberation Serif, serif" font-size="15.6" fill="#141414" stroke="#141414" stroke-width="0.22" textLength="73.7" lengthAdjust="spacingAndGlyphs">-Dominated</text>
<text x="194.8" y="852.4" font-family="Liberation Serif, serif" font-size="15.6" fill="#141414" stroke="#141414" stroke-width="0.22" textLength="61.3" lengthAdjust="spacingAndGlyphs">Spectrum</text>
<text x="261.8" y="852.4" font-family="Liberation Serif, serif" font-size="15.6" fill="#141414" stroke="#141414" stroke-width="0.22" textLength="16.8" lengthAdjust="spacingAndGlyphs">vs.</text>
<text x="286.2" y="852.4" font-family="Liberation Serif, serif" font-size="15.6" fill="#141414" stroke="#141414" stroke-width="0.22" textLength="45.8" lengthAdjust="spacingAndGlyphs">Carbon</text>
<text x="337.5" y="852.4" font-family="Liberation Serif, serif" font-size="15.6" fill="#141414" stroke="#141414" stroke-width="0.22" textLength="37.8" lengthAdjust="spacingAndGlyphs">Based</text>
<text x="381.9" y="852.4" font-family="Liberation Serif, serif" font-size="15.6" fill="#141414" stroke="#141414" stroke-width="0.22" textLength="79.1" lengthAdjust="spacingAndGlyphs">Atmospheric</text>
<text x="467.1" y="852.4" font-family="Liberation Serif, serif" font-size="15.6" fill="#141414" stroke="#141414" stroke-width="0.22" textLength="22.2" lengthAdjust="spacingAndGlyphs">Gas</text>
<text x="496.0" y="852.4" font-family="Liberation Serif, serif" font-size="15.6" fill="#141414" stroke="#141414" stroke-width="0.22" textLength="70.4" lengthAdjust="spacingAndGlyphs">Dominated</text>
<text x="571.4" y="852.4" font-family="Liberation Serif, serif" font-size="15.6" fill="#141414" stroke="#141414" stroke-width="0.22" textLength="46.8" lengthAdjust="spacingAndGlyphs">Spectra</text>
</g>
</svg>
</body>
</html>
